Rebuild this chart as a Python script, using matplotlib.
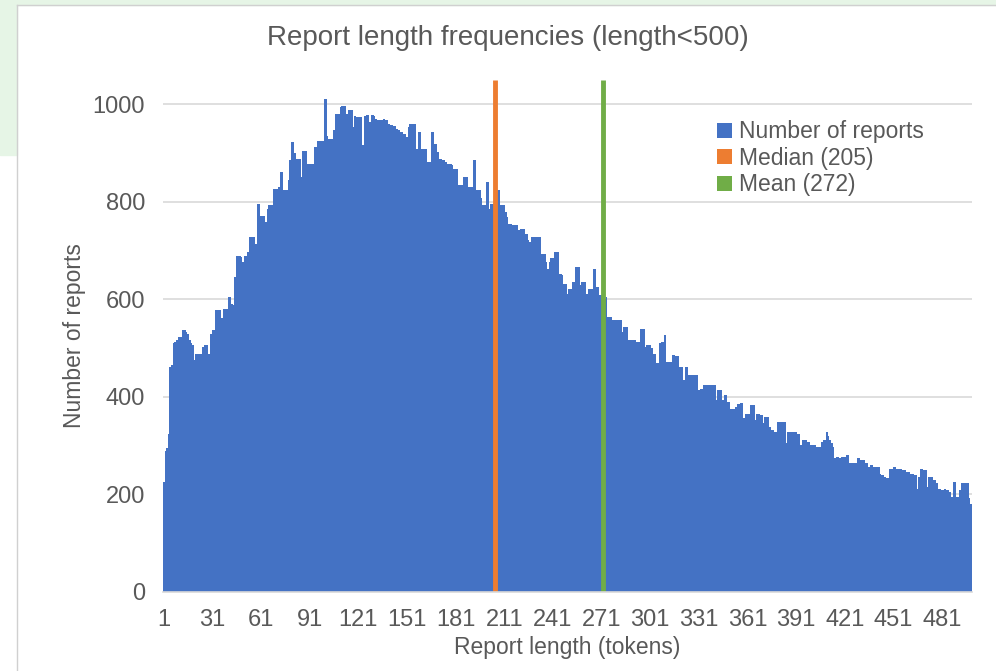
import numpy as np
import matplotlib
matplotlib.use('Agg')
import matplotlib.pyplot as plt
from matplotlib.patches import Rectangle, Patch

plt.rcParams['font.family'] = ['Liberation Sans', 'DejaVu Sans']

# report lengths 1..499 and how many reports have each length
LENGTHS = np.arange(1, 500)
COUNTS = [
    225, 290, 295, 323, 462, 465, 510, 513, 516, 523,
    523, 523, 537, 537, 533, 530, 516, 510, 506, 475,
    489, 489, 489, 489, 503, 506, 506, 506, 489, 530,
    537, 537, 578, 578, 578, 578, 561, 581, 581, 581,
    605, 605, 591, 588, 646, 690, 690, 690, 687, 677,
    690, 690, 697, 728, 728, 728, 728, 714, 796, 796,
    772, 772, 772, 759, 786, 793, 793, 793, 827, 827,
    827, 830, 861, 861, 824, 824, 824, 844, 885, 923,
    923, 900, 889, 887, 887, 851, 904, 904, 904, 878,
    877, 877, 878, 912, 912, 924, 924, 924, 924, 1011,
    1011, 936, 930, 930, 930, 947, 981, 981, 981, 994,
    996, 996, 996, 981, 989, 989, 989, 953, 977, 975,
    975, 974, 974, 916, 977, 979, 979, 964, 979, 979,
    977, 971, 967, 967, 967, 967, 969, 967, 967, 960,
    957, 957, 955, 955, 950, 947, 943, 943, 940, 940,
    933, 953, 960, 960, 960, 960, 909, 943, 943, 909,
    909, 909, 909, 882, 882, 943, 943, 919, 919, 902,
    889, 889, 885, 885, 882, 878, 878, 878, 875, 868,
    868, 868, 834, 834, 834, 851, 851, 851, 830, 830,
    830, 885, 885, 824, 824, 824, 807, 793, 793, 841,
    841, 786, 796, 796, 810, 815, 824, 824, 793, 793,
    793, 780, 769, 755, 755, 752, 752, 752, 752, 742,
    745, 745, 745, 735, 735, 721, 718, 728, 728, 728,
    728, 728, 728, 694, 694, 694, 677, 663, 677, 684,
    684, 697, 697, 697, 653, 653, 650, 632, 632, 612,
    622, 622, 636, 636, 667, 667, 667, 629, 636, 636,
    636, 612, 622, 622, 622, 663, 663, 626, 626, 609,
    609, 605, 600, 605, 564, 564, 564, 557, 557, 557,
    557, 557, 557, 533, 544, 544, 544, 516, 516, 516,
    516, 516, 513, 513, 540, 540, 540, 503, 506, 506,
    506, 500, 489, 489, 469, 469, 510, 513, 513, 527,
    472, 472, 472, 472, 486, 486, 483, 483, 462, 462,
    462, 434, 462, 462, 445, 445, 445, 445, 445, 445,
    414, 417, 417, 424, 424, 424, 424, 424, 424, 424,
    424, 393, 414, 414, 414, 393, 404, 404, 390, 390,
    376, 376, 376, 380, 385, 385, 387, 387, 356, 366,
    366, 366, 383, 383, 383, 352, 366, 366, 363, 363,
    346, 359, 359, 359, 339, 332, 332, 329, 329, 349,
    349, 349, 349, 349, 305, 329, 329, 329, 329, 329,
    329, 325, 325, 301, 311, 311, 311, 308, 308, 301,
    301, 301, 301, 298, 298, 298, 308, 311, 311, 329,
    320, 311, 305, 298, 274, 277, 277, 274, 277, 277,
    277, 281, 281, 264, 264, 264, 264, 264, 274, 274,
    270, 270, 270, 264, 264, 257, 260, 260, 257, 257,
    257, 257, 243, 240, 240, 236, 233, 233, 253, 253,
    257, 257, 253, 253, 253, 253, 250, 250, 247, 247,
    247, 243, 243, 240, 240, 212, 236, 253, 253, 250,
    250, 216, 236, 236, 236, 229, 229, 223, 212, 212,
    209, 209, 212, 209, 209, 206, 195, 226, 226, 195,
    195, 210, 223, 223, 223, 223, 223, 192, 180,
]
MEDIAN = 205
MEAN = 272
XTICKS = list(range(1, 500, 30))

BLUE = '#4472C4'
ORANGE = '#ED7D31'
GREEN = '#70AD47'
TEXT = '#595959'
GRID = '#D9D9D9'

fig = plt.figure(figsize=(9.96, 6.71), dpi=100)

# bits of the window behind the chart
fig.patches.append(Rectangle((0, 1 - 5 / 671), 1, 5 / 671, transform=fig.transFigure,
                             color='#E6F5E6', zorder=0))
fig.patches.append(Rectangle((0, 1 - 155 / 671), 17 / 996, 155 / 671, transform=fig.transFigure,
                             color='#E6F5E6', zorder=0))
fig.add_artist(plt.Line2D([17 / 996, 17 / 996], [0, 1 - 5 / 671], transform=fig.transFigure,
                          color='#D0D0D0', lw=1))
fig.add_artist(plt.Line2D([17 / 996, 1], [1 - 5 / 671, 1 - 5 / 671], transform=fig.transFigure,
                          color='#D0D0D0', lw=1))

ax = fig.add_axes([163 / 996, 1 - 592 / 671, (972 - 163) / 996, (592 - 80) / 671])

ax.bar(LENGTHS, COUNTS, width=1.0, color=BLUE, linewidth=0, zorder=2)
ax.vlines(MEDIAN, 0, 1050, color=ORANGE, lw=3.5, zorder=3)
ax.vlines(MEAN, 0, 1050, color=GREEN, lw=3.5, zorder=3)

ax.set_xlim(0.5, 499.5)
ax.set_ylim(0, 1050)
ax.set_yticks([0, 200, 400, 600, 800, 1000])
ax.set_xticks(XTICKS)
ax.set_xticklabels([str(t) for t in XTICKS])
ax.yaxis.grid(True, color=GRID, lw=1.2, zorder=0)
ax.set_axisbelow(True)
for s in ['top', 'right', 'left']:
    ax.spines[s].set_visible(False)
ax.spines['bottom'].set_color(GRID)
ax.spines['bottom'].set_linewidth(1.2)
ax.spines['bottom'].set_zorder(4)
ax.tick_params(axis='both', length=0, labelsize=17, labelcolor=TEXT)
ax.tick_params(axis='y', pad=13)
ax.tick_params(axis='x', pad=12)

ax.set_xlabel('Report length (tokens)', fontsize=16.5, color=TEXT, labelpad=4)
ax.set_ylabel('Number of reports', fontsize=16.5, color=TEXT, labelpad=5)
fig.text(508 / 996, 1 - 38 / 671, 'Report length frequencies (length<500)',
         ha='center', va='center', fontsize=20, color=TEXT)

handles = [Patch(facecolor=BLUE, edgecolor='none'),
           Patch(facecolor=ORANGE, edgecolor='none'),
           Patch(facecolor=GREEN, edgecolor='none')]
labels = ['Number of reports', 'Median (205)', 'Mean (272)']
fig.legend(handles, labels, loc='upper left', bbox_to_anchor=(706 / 996, 1 - 109 / 671),
           frameon=False, fontsize=16.5, labelcolor=TEXT, handlelength=0.65,
           handleheight=0.65, handletextpad=0.3, labelspacing=0.15, borderpad=0)

fig.savefig('out.png', dpi=100, facecolor='white')
